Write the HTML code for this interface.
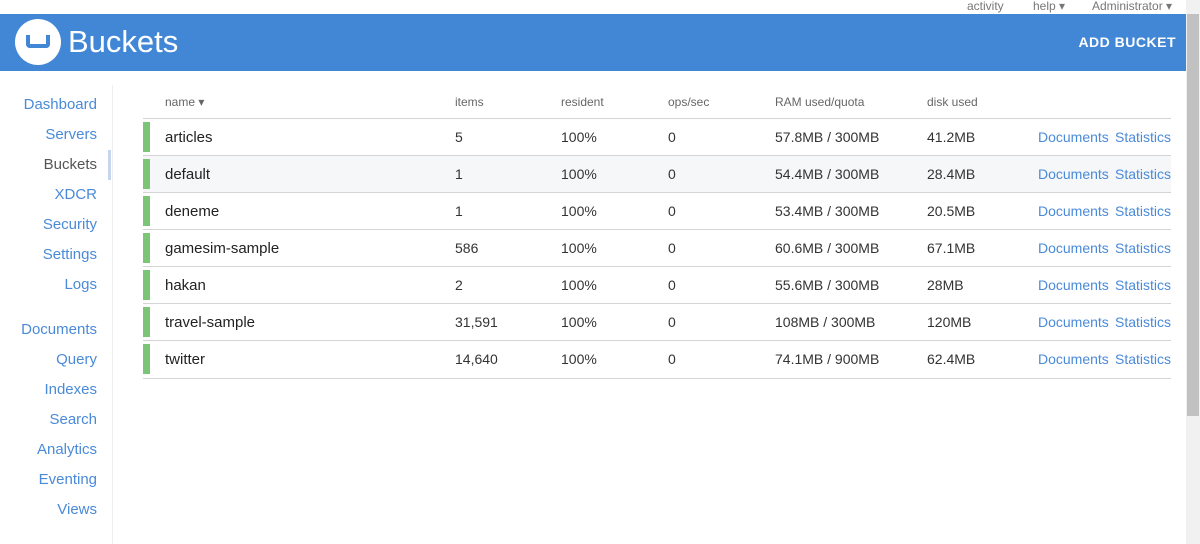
<!DOCTYPE html>
<html><head><meta charset="utf-8"><style>
*{margin:0;padding:0;box-sizing:border-box}
body{width:1200px;height:544px;overflow:hidden;background:#fff;font-family:"Liberation Sans",sans-serif;position:relative}
.a{position:absolute;white-space:nowrap}
.top{font-size:12px;color:#777;top:-1px}
.hdr{position:absolute;left:0;top:14px;width:1186px;height:57px;background:#4287d6}
.nav{position:absolute;right:1103px;font-size:15px;color:#4a8ad9;line-height:20px}
.th{font-size:12px;color:#666;top:95px}
.row{position:absolute;left:143px;width:1028px;height:37px;border-bottom:1px solid #d4d4d4}
.row .g{position:absolute;left:0;top:3px;width:7px;height:30px;background:#7cc576}
.row span{position:absolute;top:10px;font-size:14px;color:#333}
.row .n{left:22px;font-size:15px;color:#222;top:10px}
.row .l{color:#4a8ad9}
</style></head><body>
<div class="a top" style="left:967px">activity</div>
<div class="a top" style="left:1033px">help ▾</div>
<div class="a top" style="left:1092px">Administrator ▾</div>
<div class="hdr">
 <div class="a" style="left:15px;top:5px;width:46px;height:46px;border-radius:50%;background:#fff"></div>
 <div class="a" style="left:26px;top:21px;width:24px;height:13px;border:4px solid #4287d6;border-top:none;border-radius:0 0 4px 4px"></div>
 <div class="a" style="left:68px;top:10px;font-size:31px;color:#fff">Buckets</div>
 <div class="a" style="right:10px;top:20px;font-size:14px;font-weight:bold;color:#fff;letter-spacing:.5px">ADD BUCKET</div>
</div>
<div class="a" style="left:1186px;top:0;width:14px;height:544px;background:#f1f1f1"></div>
<div class="a" style="left:1187px;top:14px;width:12px;height:402px;background:#c1c1c1"></div>
<div class="a" style="left:112px;top:85px;width:1px;height:459px;background:#eee"></div>
<div class="a" style="left:108px;top:150px;width:3px;height:30px;background:#c5d6ee"></div>
<div class="nav" style="top:95px">Dashboard</div>
<div class="nav" style="top:125px">Servers</div>
<div class="nav" style="top:155px;color:#555">Buckets</div>
<div class="nav" style="top:185px">XDCR</div>
<div class="nav" style="top:215px">Security</div>
<div class="nav" style="top:245px">Settings</div>
<div class="nav" style="top:275px">Logs</div>
<div class="nav" style="top:320px">Documents</div>
<div class="nav" style="top:350px">Query</div>
<div class="nav" style="top:380px">Indexes</div>
<div class="nav" style="top:410px">Search</div>
<div class="nav" style="top:440px">Analytics</div>
<div class="nav" style="top:470px">Eventing</div>
<div class="nav" style="top:500px">Views</div>
<div class="a th" style="left:165px">name ▾</div>
<div class="a th" style="left:455px">items</div>
<div class="a th" style="left:561px">resident</div>
<div class="a th" style="left:668px">ops/sec</div>
<div class="a th" style="left:775px">RAM used/quota</div>
<div class="a th" style="left:927px">disk used</div>
<div class="a" style="left:143px;top:118px;width:1028px;height:1px;background:#d4d4d4"></div>
<div class="row" style="top:119px"><i class="g"></i><span class="n">articles</span><span style="left:312px">5</span><span style="left:418px">100%</span><span style="left:525px">0</span><span style="left:632px">57.8MB / 300MB</span><span style="left:784px">41.2MB</span><span class="l" style="left:895px">Documents</span><span class="l" style="left:972px">Statistics</span></div>
<div class="row" style="top:156px;background:#f5f7f8"><i class="g"></i><span class="n">default</span><span style="left:312px">1</span><span style="left:418px">100%</span><span style="left:525px">0</span><span style="left:632px">54.4MB / 300MB</span><span style="left:784px">28.4MB</span><span class="l" style="left:895px">Documents</span><span class="l" style="left:972px">Statistics</span></div>
<div class="row" style="top:193px"><i class="g"></i><span class="n">deneme</span><span style="left:312px">1</span><span style="left:418px">100%</span><span style="left:525px">0</span><span style="left:632px">53.4MB / 300MB</span><span style="left:784px">20.5MB</span><span class="l" style="left:895px">Documents</span><span class="l" style="left:972px">Statistics</span></div>
<div class="row" style="top:230px"><i class="g"></i><span class="n">gamesim-sample</span><span style="left:312px">586</span><span style="left:418px">100%</span><span style="left:525px">0</span><span style="left:632px">60.6MB / 300MB</span><span style="left:784px">67.1MB</span><span class="l" style="left:895px">Documents</span><span class="l" style="left:972px">Statistics</span></div>
<div class="row" style="top:267px"><i class="g"></i><span class="n">hakan</span><span style="left:312px">2</span><span style="left:418px">100%</span><span style="left:525px">0</span><span style="left:632px">55.6MB / 300MB</span><span style="left:784px">28MB</span><span class="l" style="left:895px">Documents</span><span class="l" style="left:972px">Statistics</span></div>
<div class="row" style="top:304px"><i class="g"></i><span class="n">travel-sample</span><span style="left:312px">31,591</span><span style="left:418px">100%</span><span style="left:525px">0</span><span style="left:632px">108MB / 300MB</span><span style="left:784px">120MB</span><span class="l" style="left:895px">Documents</span><span class="l" style="left:972px">Statistics</span></div>
<div class="row" style="top:341px;height:38px"><i class="g"></i><span class="n">twitter</span><span style="left:312px">14,640</span><span style="left:418px">100%</span><span style="left:525px">0</span><span style="left:632px">74.1MB / 900MB</span><span style="left:784px">62.4MB</span><span class="l" style="left:895px">Documents</span><span class="l" style="left:972px">Statistics</span></div>
</body></html>
